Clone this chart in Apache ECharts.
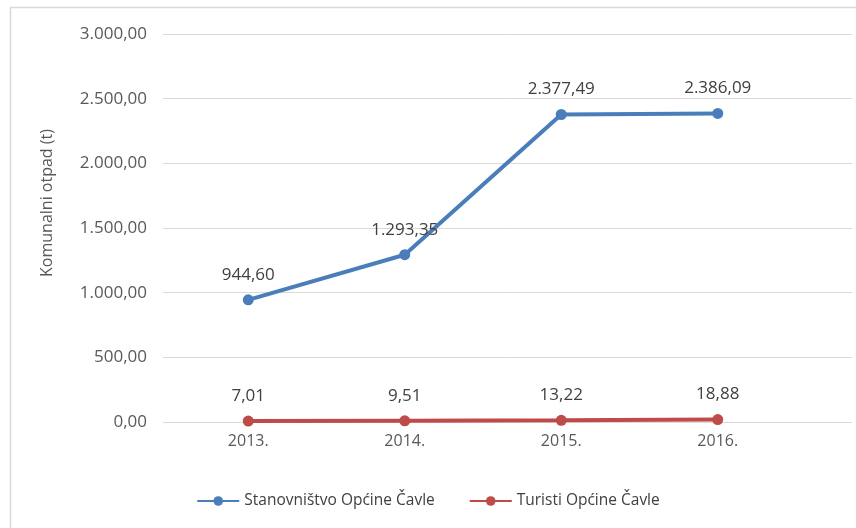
<!DOCTYPE html>
<html>
<head>
<meta charset="utf-8">
<script src="https://cdn.jsdelivr.net/npm/echarts@6/dist/echarts.min.js"></script>
<style>
  html, body { margin: 0; padding: 0; background: #fff; }
  #chart { width: 856px; height: 528px; }
</style>
</head>
<body>
<div id="chart"></div>
<script>
const years = ['2013.', '2014.', '2015.', '2016.']
const stanovnistvo = [944.60, 1293.35, 2377.49, 2386.09]
const turisti = [7.01, 9.51, 13.22, 18.88]
const seriesNames = ['Stanovništvo Općine Čavle', 'Turisti Općine Čavle']

// hr format: 2.377,49
function hr(v) {
    const parts = Number(v).toFixed(2).split('.')
    return parts[0].replace(/\B(?=(\d{3})+(?!\d))/g, '.') + ',' + parts[1]
}

const myChart = echarts.init(document.getElementById('chart'))
const font = '"Open Sans", "Noto Sans", sans-serif'

const option = {
    backgroundColor: '#fff',
    color: ['#4A7EBB', '#BE4B48'],
    textStyle: { fontFamily: font },
    graphic: [{
        type: 'rect',
        shape: { x: 10.5, y: 7.5, width: 900, height: 600 },
        style: { fill: 'none', stroke: '#D9D9D9', lineWidth: 1.5 },
        silent: true
    }],
    legend: {
        bottom: 14,
        left: 'center',
        itemWidth: 42,
        itemHeight: 12,
        itemGap: 34,
        textStyle: { fontSize: 15.5, color: '#404040', fontFamily: font },
        data: seriesNames
    },
    grid: [
        // wide grid: gridlines and y labels
        { left: 163, right: 4, top: 34, bottom: 106 },
        // data grid
        { left: 170, right: 60, top: 34, bottom: 106 }
    ],
    xAxis: [
        { gridIndex: 0, type: 'category', data: years, show: false },
        {
            gridIndex: 1,
            type: 'category',
            data: years,
            axisLine: { show: false },
            axisTick: { show: false },
            axisLabel: { color: '#595959', fontSize: 16, margin: 11 }
        }
    ],
    yAxis: [
        {
            gridIndex: 0,
            type: 'value',
            min: 0, max: 3000, interval: 500,
            name: 'Komunalni otpad (t)',
            nameLocation: 'middle',
            nameGap: 108,
            nameTextStyle: { color: '#595959', fontSize: 16, padding: [0, 0, 0, 50] },
            axisLine: { show: false },
            axisTick: { show: false },
            splitLine: { lineStyle: { color: '#D9D9D9', width: 1 } },
            axisLabel: { color: '#595959', fontSize: 17, margin: 16, formatter: hr }
        },
        {
            gridIndex: 1,
            type: 'value',
            min: 0, max: 3000, interval: 500,
            show: false,
            splitLine: { show: false }
        }
    ],
    series: [
        {
            name: seriesNames[0],
            type: 'line',
            xAxisIndex: 1, yAxisIndex: 1,
            data: stanovnistvo,
            symbol: 'circle',
            symbolSize: 11,
            lineStyle: { width: 4 },
            label: {
                show: true, position: 'top', distance: 11,
                color: '#404040', fontSize: 17,
                formatter: p => hr(p.value)
            }
        },
        {
            name: seriesNames[1],
            type: 'line',
            xAxisIndex: 1, yAxisIndex: 1,
            data: turisti,
            symbol: 'circle',
            symbolSize: 11,
            lineStyle: { width: 4 },
            label: {
                show: true, position: 'top', distance: 11,
                color: '#404040', fontSize: 17,
                formatter: p => hr(p.value)
            }
        }
    ]
}

myChart.setOption(option)
</script>
</body>
</html>
